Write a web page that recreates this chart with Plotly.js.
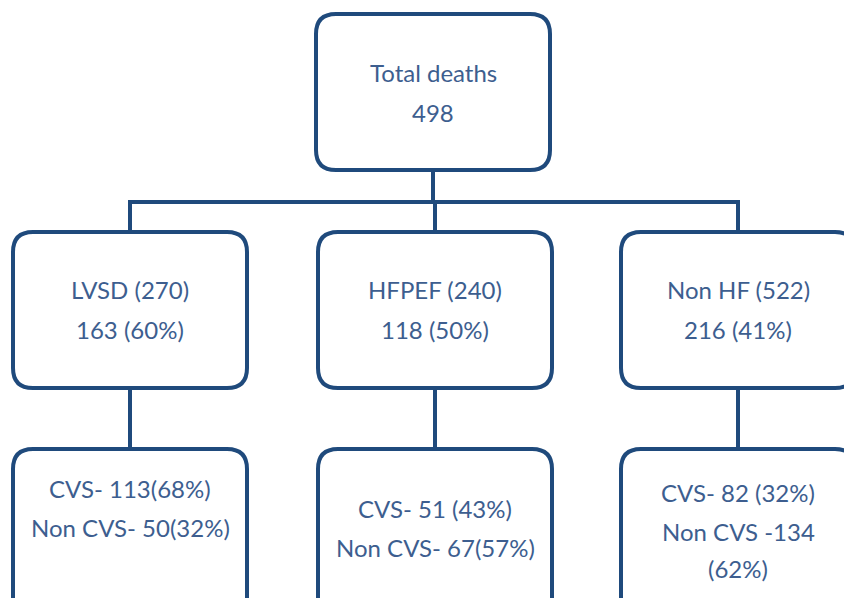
<!DOCTYPE html>
<html>
<head>
<meta charset="utf-8">
<script src="https://cdn.plot.ly/plotly-3.0.1.min.js"></script>
<style>html,body{margin:0;padding:0;background:#fff;}#chart{width:844px;height:598px;}</style>
</head>
<body>
<div id="chart"></div>
<script>
// ---- data ----
const totalLabel = "Total deaths";
const totalDeaths = 498;
const groups = ["LVSD", "HFPEF", "Non HF"];
const groupN = [270, 240, 522];
const groupDeaths = [163, 118, 216];
const groupPct = [60, 50, 41];
const cvsDeaths = [113, 51, 82];
const cvsPct = [68, 43, 32];
const nonCvsDeaths = [50, 67, 134];
const nonCvsPct = [32, 57, 62];

// ---- layout geometry (pixels, axes map 1:1) ----
const W = 844, H = 598;
const border = "#1f4a7c";
const textColor = "#3d5e8f";
const lw = 4;
const R = 20;
const topBox = {x0: 316, x1: 550, y0: 14, y1: 170};
const midY0 = 232, midY1 = 388;
const botY0 = 449, botY1 = 650;
const colX0 = [13, 318, 621];
const boxW = 234;
const busY = 202;

function rrect(b) {
  const {x0, x1, y0, y1} = b;
  return `M${x0 + R},${y0} L${x1 - R},${y0} Q${x1},${y0} ${x1},${y0 + R} ` +
         `L${x1},${y1 - R} Q${x1},${y1} ${x1 - R},${y1} L${x0 + R},${y1} ` +
         `Q${x0},${y1} ${x0},${y1 - R} L${x0},${y0 + R} Q${x0},${y0} ${x0 + R},${y0} Z`;
}
function boxShape(b) {
  return {type: "path", xref: "x", yref: "y", path: rrect(b),
          line: {color: border, width: lw}, fillcolor: "rgba(0,0,0,0)", layer: "above"};
}
function lineShape(x0, y0, x1, y1) {
  return {type: "line", xref: "x", yref: "y", x0, y0, x1, y1,
          line: {color: border, width: lw}, layer: "below"};
}

const shapes = [];
const annotations = [];
function txt(x, y, t) {
  annotations.push({x, y, xref: "x", yref: "y", text: t, showarrow: false,
    xanchor: "center", yanchor: "middle",
    font: {family: "Lato, 'Open Sans', sans-serif", size: 24, color: textColor}});
}

const centers = colX0.map(x => x + boxW / 2);
const topCx = (topBox.x0 + topBox.x1) / 2;

// connectors
shapes.push(lineShape(topCx, topBox.y1, topCx, busY));
shapes.push(lineShape(centers[0] - 2, busY, centers[2] + 2, busY));
centers.forEach(cx => {
  shapes.push(lineShape(cx, busY, cx, midY0));
  shapes.push(lineShape(cx, midY1, cx, botY0));
});

// boxes
shapes.push(boxShape(topBox));
colX0.forEach(x0 => {
  shapes.push(boxShape({x0, x1: x0 + boxW, y0: midY0, y1: midY1}));
  shapes.push(boxShape({x0, x1: x0 + boxW, y0: botY0, y1: botY1}));
});

// text
txt(topCx, 72, totalLabel);
txt(topCx, 112, String(totalDeaths));
groups.forEach((g, i) => {
  txt(centers[i], 289, `${g} (${groupN[i]})`);
  txt(centers[i], 329, `${groupDeaths[i]} (${groupPct[i]}%)`);
});
// bottom boxes (original spacing kept as in the source figure)
txt(centers[0], 488, `CVS- ${cvsDeaths[0]}(${cvsPct[0]}%)`);
txt(centers[0], 527, `Non CVS- ${nonCvsDeaths[0]}(${nonCvsPct[0]}%)`);
txt(centers[1], 508, `CVS- ${cvsDeaths[1]} (${cvsPct[1]}%)`);
txt(centers[1], 547, `Non CVS- ${nonCvsDeaths[1]}(${nonCvsPct[1]}%)`);
txt(centers[2], 492, `CVS- ${cvsDeaths[2]} (${cvsPct[2]}%)`);
txt(centers[2], 531, `Non CVS -${nonCvsDeaths[2]}`);
txt(centers[2], 568, `(${nonCvsPct[2]}%)`);

const layout = {
  width: W, height: H,
  margin: {l: 0, r: 0, t: 0, b: 0},
  paper_bgcolor: "#ffffff", plot_bgcolor: "#ffffff",
  xaxis: {range: [0, W], visible: false, fixedrange: true},
  yaxis: {range: [H, 0], visible: false, fixedrange: true},
  showlegend: false,
  shapes, annotations
};
const trace = {x: [], y: [], type: "scatter", mode: "markers", hoverinfo: "skip"};
Plotly.newPlot("chart", [trace], layout, {displayModeBar: false, staticPlot: true});
</script>
</body>
</html>
